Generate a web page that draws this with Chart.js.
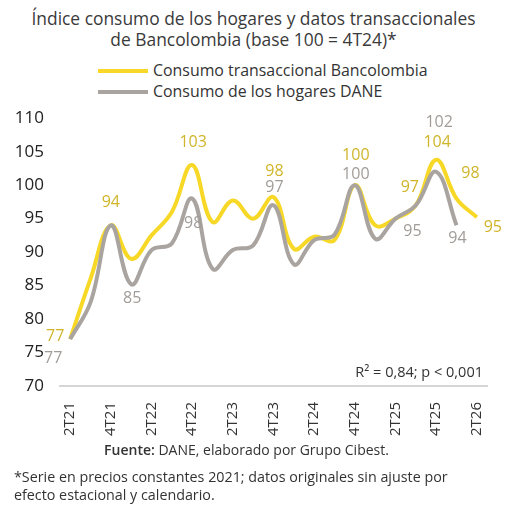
<!DOCTYPE html>
<html lang="es">
<head>
<meta charset="utf-8">
<script src="https://cdn.jsdelivr.net/npm/chart.js@4.4.1/dist/chart.umd.min.js"></script>
<style>
  body { margin: 0; background: #fff; font-family: "Open Sans", sans-serif; color: #333; }
  #wrap { position: relative; width: 507px; height: 505px; overflow: hidden; }
  #title { position: absolute; top: 8px; left: 0; width: 507px; text-align: center; font-size: 17.4px; line-height: 21px; color: #3a3a3a; }
  #legend { position: absolute; top: 60px; left: 98px; font-size: 15.9px; line-height: 21px; color: #333; }
  #legend .row { display: flex; align-items: center; }
  #legend .swatch { display: inline-block; width: 50px; height: 4px; margin-right: 5px; }
  #chart-box { position: absolute; top: 100px; left: 0; width: 507px; height: 345px; }
  #stats { position: absolute; top: 363px; right: 24px; font-size: 14.5px; line-height: 18px; color: #333; }
  #source { position: absolute; top: 441px; left: 0; width: 493px; text-align: center; font-size: 14px; line-height: 18px; }
  #note { position: absolute; top: 468px; left: 14px; font-size: 14.3px; line-height: 18px; }
</style>
</head>
<body>
<div id="wrap">
  <div id="title">Índice consumo de los hogares y datos transaccionales<br>de Bancolombia (base 100 = 4T24)*</div>
  <div id="legend"></div>
  <div id="chart-box"><canvas id="line-chart" width="507" height="345"></canvas></div>
  <div id="stats">R² = 0,84; p &lt; 0,001</div>
  <div id="source"><b style="font-weight:600">Fuente:</b> DANE, elaborado por Grupo Cibest.</div>
  <div id="note">*Serie en precios constantes 2021; datos originales sin ajuste por<br>efecto estacional y calendario.</div>
</div>
<script>
// quarters, only every second one gets a tick label
const quarters = ['2T21', '3T21', '4T21', '1T22', '2T22', '3T22', '4T22', '1T23', '2T23', '3T23', '4T23',
                  '1T24', '2T24', '3T24', '4T24', '1T25', '2T25', '3T25', '4T25', '1T26', '2T26'];

// Consumo transaccional Bancolombia (base 100 = 4T24)
const bancolombia = [77, 86, 94, 89, 92.5, 96, 103, 94.5, 97.7, 95, 98.2,
                     90.5, 92.3, 91.8, 100, 94, 95, 97, 103.8, 98, 95.2];

// Consumo de los hogares DANE (one quarter shorter)
const dane = [77, 82.5, 94, 85.2, 90.3, 91.3, 98, 87.5, 90.3, 91, 97,
              88.2, 91.8, 92.6, 100, 92, 95, 97, 102, 94];

// which points carry a value label
const bancolombiaLabelIdx = [0, 2, 6, 10, 14, 17, 18, 19, 20];
const daneLabelIdx = [0, 3, 6, 10, 14, 16, 18, 19];

const yellow = '#f7d826';
const yellowText = '#d0b52a';
const grey = '#a9a4a0';
const greyText = '#a19c98';

const series = [
    { label: 'Consumo transaccional Bancolombia', data: bancolombia, color: yellow, text: yellowText, labelIdx: bancolombiaLabelIdx },
    { label: 'Consumo de los hogares DANE', data: dane, color: grey, text: greyText, labelIdx: daneLabelIdx }
];

// legend rows
const legendEl = document.getElementById('legend');
series.forEach(s => {
    const row = document.createElement('div');
    row.className = 'row';
    const sw = document.createElement('span');
    sw.className = 'swatch';
    sw.style.background = s.color;
    const tx = document.createElement('span');
    tx.textContent = s.label;
    row.appendChild(sw);
    row.appendChild(tx);
    legendEl.appendChild(row);
});

// label offsets from the point, per dataset and index
const labelOffsets = {
    0: { 0: [-15, -3], 2: [0, -23], 6: [1, -23], 10: [1, -26], 14: [1, -30], 17: [-6, -18], 18: [1, -17], 19: [14, -25], 20: [16, 10] },
    1: { 0: [-17, 19], 3: [1, 14], 6: [1, 25], 10: [1, -18], 14: [1, -11], 16: [17, 13], 18: [3, -49], 19: [1, 13] }
};

const valueLabels = {
    id: 'valueLabels',
    afterDatasetsDraw(chart) {
        const ctx = chart.ctx;
        ctx.save();
        ctx.font = '16px "Open Sans"';
        ctx.textAlign = 'center';
        ctx.textBaseline = 'middle';
        series.forEach((s, di) => {
            const meta = chart.getDatasetMeta(di);
            s.labelIdx.forEach(i => {
                const pt = meta.data[i];
                const off = labelOffsets[di][i] || [0, -16];
                ctx.fillStyle = s.text;
                ctx.fillText(String(Math.round(s.data[i])), pt.x + off[0], pt.y + off[1]);
            });
        });
        ctx.restore();
    }
};

new Chart(document.getElementById('line-chart').getContext('2d'), {
    type: 'line',
    data: {
        labels: quarters,
        datasets: series.map((s, di) => ({
            label: s.label,
            data: s.data,
            borderColor: s.color,
            backgroundColor: s.color,
            borderWidth: 4,
            tension: 0.4,
            pointRadius: 0,
            fill: false,
            order: di === 0 ? 2 : 1
        }))
    },
    options: {
        responsive: false,
        animation: false,
        devicePixelRatio: 1,
        layout: { padding: { top: 14, right: 20, bottom: 0, left: 0 } },
        plugins: {
            legend: { display: false },
            tooltip: { enabled: false }
        },
        scales: {
            x: {
                offset: true,
                grid: { display: false },
                border: { display: true, color: '#d6d6d6', width: 2 },
                ticks: {
                    autoSkip: false,
                    maxRotation: 90,
                    minRotation: 90,
                    padding: 8,
                    color: '#333',
                    font: { family: 'Open Sans', size: 15 },
                    callback: (value, index) => index % 2 === 0 ? quarters[index] : ''
                },
                afterFit: (scale) => { scale.height = 59; }
            },
            y: {
                min: 70,
                max: 110,
                grid: { display: false },
                border: { display: false },
                ticks: {
                    stepSize: 5,
                    padding: 8,
                    color: '#222',
                    font: { family: 'Open Sans', size: 17 }
                },
                afterFit: (scale) => { scale.width = 60; }
            }
        }
    },
    plugins: [valueLabels]
});
</script>
</body>
</html>
